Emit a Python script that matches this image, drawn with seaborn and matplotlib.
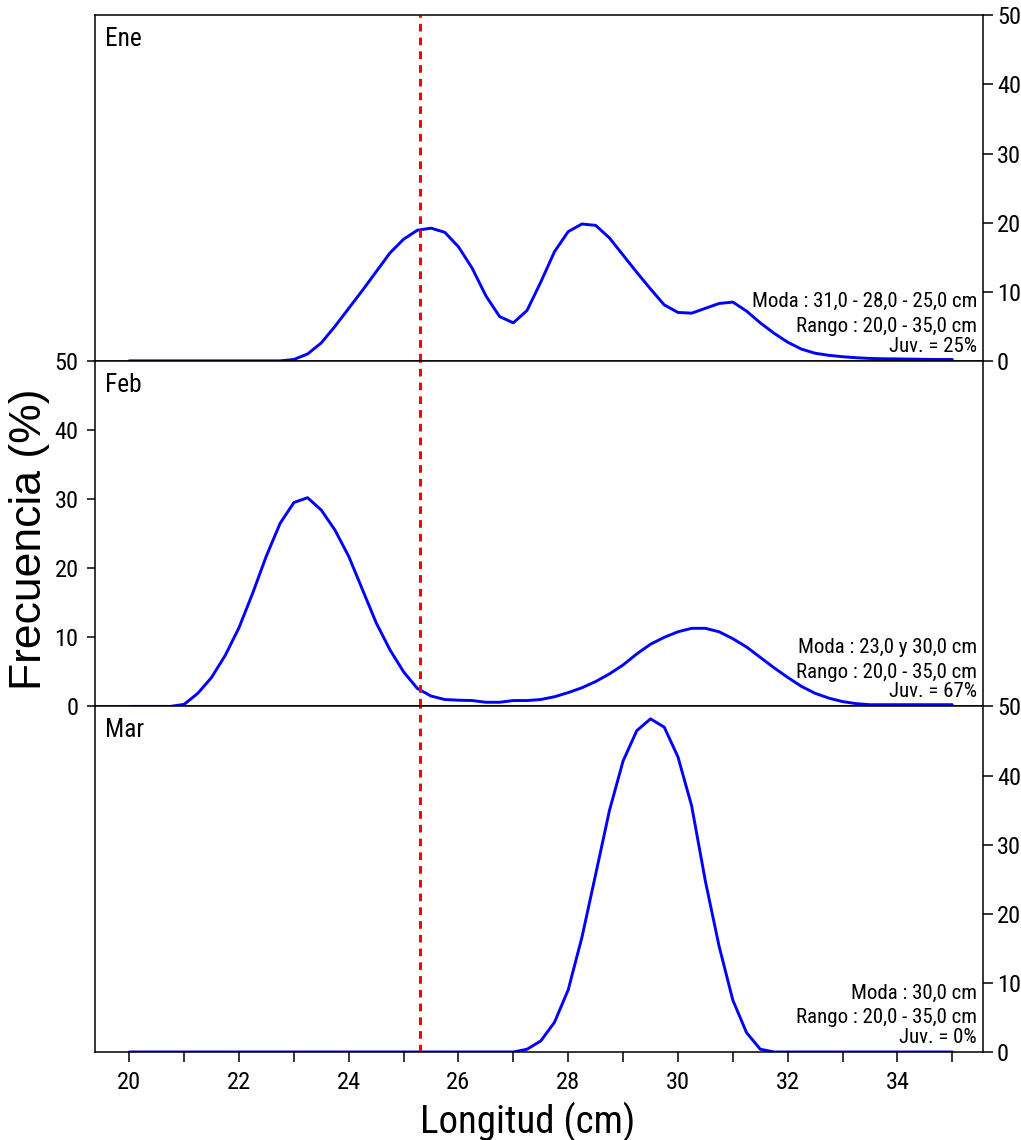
import matplotlib
matplotlib.use("Agg")
import matplotlib.pyplot as plt
from matplotlib import font_manager
import seaborn as sns
import pandas as pd

# longitud (cm) sampled along the curves
longitud = [20.0, 20.25, 20.5, 20.75, 21.0, 21.25, 21.5, 21.75, 22.0, 22.25, 22.5, 22.75,
            23.0, 23.25, 23.5, 23.75, 24.0, 24.25, 24.5, 24.75, 25.0, 25.25, 25.5, 25.75,
            26.0, 26.25, 26.5, 26.75, 27.0, 27.25, 27.5, 27.75, 28.0, 28.25, 28.5, 28.75,
            29.0, 29.25, 29.5, 29.75, 30.0, 30.25, 30.5, 30.75, 31.0, 31.25, 31.5, 31.75,
            32.0, 32.25, 32.5, 32.75, 33.0, 33.25, 33.5, 33.75, 34.0, 34.25, 34.5, 34.75, 35.0]

freq_ene = [0, 0, 0, 0, 0, 0, 0, 0, 0, 0, 0, 0,
            0.2, 1.0, 2.6, 5.0, 7.6, 10.2, 12.9, 15.6, 17.6, 18.9, 19.2, 18.6,
            16.5, 13.4, 9.4, 6.4, 5.5, 7.3, 11.4, 15.8, 18.7, 19.8, 19.6, 17.8,
            15.3, 12.8, 10.4, 8.1, 7.0, 6.9, 7.6, 8.3, 8.5, 7.2, 5.5, 4.0,
            2.7, 1.7, 1.1, 0.8, 0.6, 0.45, 0.35, 0.3, 0.28, 0.25, 0.22, 0.2, 0.2]

freq_feb = [0, 0, 0, 0, 0.3, 1.9, 4.2, 7.4, 11.4, 16.4, 21.8, 26.5,
            29.5, 30.2, 28.4, 25.5, 21.7, 16.9, 12.1, 8.2, 5.0, 2.6, 1.5, 1.0,
            0.9, 0.85, 0.6, 0.6, 0.85, 0.85, 1.0, 1.4, 2.0, 2.7, 3.6, 4.7,
            6.0, 7.6, 9.0, 10.0, 10.8, 11.3, 11.3, 10.8, 9.8, 8.6, 7.1, 5.6,
            4.2, 2.9, 1.9, 1.2, 0.7, 0.4, 0.25, 0.25, 0.25, 0.25, 0.25, 0.25, 0.25]

freq_mar = [0, 0, 0, 0, 0, 0, 0, 0, 0, 0, 0, 0,
            0, 0, 0, 0, 0, 0, 0, 0, 0, 0, 0, 0,
            0, 0, 0, 0, 0, 0.4, 1.6, 4.3, 9.0, 16.6, 25.7, 34.9,
            42.1, 46.5, 48.2, 47.0, 42.7, 35.6, 24.7, 15.3, 7.5, 2.8, 0.4, 0,
            0, 0, 0, 0, 0, 0, 0, 0, 0, 0, 0, 0, 0]

meses = ["Ene", "Feb", "Mar"]
moda = ["Moda : 31,0 - 28,0 - 25,0 cm", "Moda : 23,0 y 30,0 cm", "Moda : 30,0 cm"]
rango = ["Rango : 20,0 - 35,0 cm", "Rango : 20,0 - 35,0 cm", "Rango : 20,0 - 35,0 cm"]
juv = ["Juv. = 25%", "Juv. = 67%", "Juv. = 0%"]
lado_y = ["right", "left", "right"]
talla_juv = 25.3

df = pd.concat([
    pd.DataFrame({"longitud": longitud, "frecuencia": f, "mes": m})
    for m, f in zip(meses, [freq_ene, freq_feb, freq_mar])
])

sns.set_style("white")

# the original uses a narrow face; take one if it is there
fuentes = font_manager.fontManager.ttflist
nombres = {f.name for f in fuentes}
estrecho = "normal"
if "Liberation Sans Narrow" in nombres:
    familia = ["Liberation Sans Narrow", "DejaVu Sans"]
elif "Roboto Condensed" in nombres:
    familia = ["Roboto Condensed", "DejaVu Sans"]
elif any(f.name == "DejaVu Sans" and f.stretch == "condensed" for f in fuentes):
    familia = ["DejaVu Sans"]
    estrecho = "condensed"
else:
    familia = ["Liberation Sans", "DejaVu Sans"]
plt.rcParams["font.family"] = familia
plt.rcParams["font.stretch"] = estrecho
plt.rcParams["text.color"] = "black"
plt.rcParams["xtick.color"] = "black"
plt.rcParams["ytick.color"] = "black"

fig, axes = plt.subplots(3, 1, figsize=(10.21, 11.4), dpi=100, sharex=True)
fig.subplots_adjust(left=0.0933, right=0.9628, top=0.9866, bottom=0.0772, hspace=0)
renderer = fig.canvas.get_renderer()


def ajustar(t, ancho_px):
    # scale a text so its width matches the one in the picture
    w = t.get_window_extent(renderer).width
    t.set_fontsize(t.get_fontsize() * ancho_px / w)
    return t.get_fontsize()


prueba = fig.text(0, 0, "50", fontsize=20)
size_tick = min(ajustar(prueba, 24), 20)
prueba.remove()

textos = []
for i, ax in enumerate(axes):
    sub = df[df["mes"] == meses[i]]
    sns.lineplot(data=sub, x="longitud", y="frecuencia", color="#0000ff", lw=2.1, ax=ax)
    ax.axvline(talla_juv, color="red", ls=(0, (2.5, 2)), lw=2.2)
    ax.set_xlim(19.38, 35.56)
    ax.set_ylim(0, 50)
    ax.set_xlabel("")
    ax.set_ylabel("")
    for s in ax.spines.values():
        s.set_color("black")
        s.set_linewidth(1.1)

    ax.set_yticks([0, 10, 20, 30, 40, 50])
    if lado_y[i] == "right":
        ax.tick_params(axis="y", left=False, right=True, labelleft=False, labelright=True,
                       length=7, width=1.1, pad=3, labelsize=size_tick)
    else:
        ax.tick_params(axis="y", left=True, right=False, labelleft=True, labelright=False,
                       length=6, width=1.1, pad=6, labelsize=size_tick)

    ax.set_xticks([20, 22, 24, 26, 28, 30, 32, 34])
    ax.set_xticks([21, 23, 25, 27, 29, 31, 33, 35], minor=True)
    if i == 2:
        ax.tick_params(axis="x", which="both", bottom=True, length=7, width=1.1,
                       pad=7, labelsize=size_tick)
    else:
        ax.tick_params(axis="x", which="both", bottom=False, labelbottom=False)

    t_mes = ax.text(0.011, 0.911, meses[i], transform=ax.transAxes, fontsize=19,
                    ha="left", va="baseline")
    t1 = ax.text(0.9932, 0.155, moda[i], transform=ax.transAxes, fontsize=14.5,
                 ha="right", va="baseline")
    t2 = ax.text(0.9932, 0.083, rango[i], transform=ax.transAxes, fontsize=14.5,
                 ha="right", va="baseline")
    t3 = ax.text(0.9932, 0.027, juv[i], transform=ax.transAxes, fontsize=14.5,
                 ha="right", va="baseline")
    textos.append((t_mes, t1, t2, t3))

# sizes from widths measured on the picture (a bit wider, the original glyphs are tall)
size_mes = min(ajustar(textos[0][0], 37), 20)
size_nota = min(ajustar(textos[0][1], 225), 15)
for t_mes, t1, t2, t3 in textos:
    t_mes.set_fontsize(size_mes)
    for t in (t1, t2, t3):
        t.set_fontsize(size_nota)

ylab = fig.text(0.029, 0.527, "Frecuencia (%)", rotation=90, ha="center", va="center",
                fontsize=32, family=["Liberation Sans", "DejaVu Sans"], stretch="normal")
xlab = fig.text(0.5167, 0.006, "Longitud (cm)", ha="center", va="baseline", fontsize=30)
ajustar(xlab, 215)
if xlab.get_fontsize() > 32:
    xlab.set_fontsize(32)

fig.savefig("out.png", dpi=100)
